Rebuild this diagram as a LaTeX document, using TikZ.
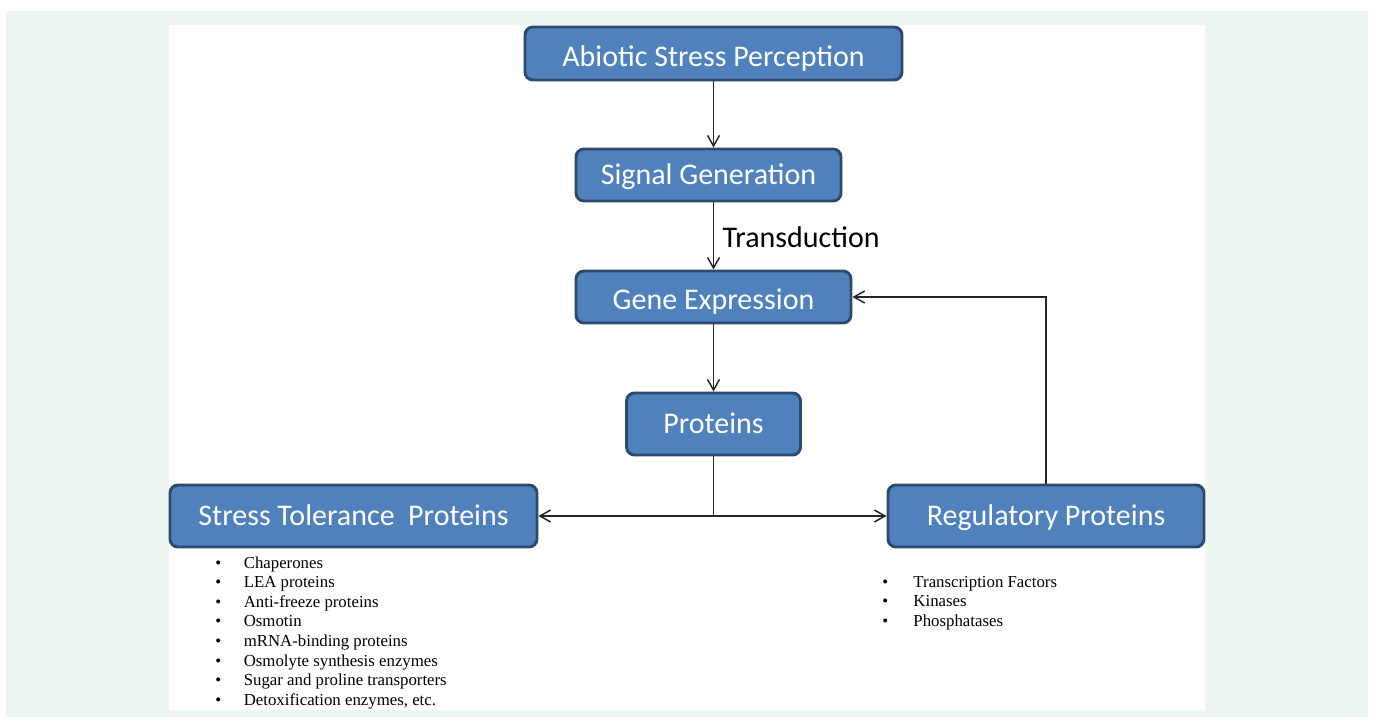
\documentclass[tikz,border=0pt]{standalone}
\usepackage{fontspec}
\setmainfont{Liberation Serif}
\newfontfamily\calibrifont{Carlito}
\usepackage{xcolor}
\usetikzlibrary{arrows.meta,positioning}
\definecolor{boxblue}{HTML}{4F81BD}
\definecolor{boxedge}{HTML}{2C4A6E}
\definecolor{panelgreen}{HTML}{EEF6F1}
\tikzset{
  stage/.style={draw=boxedge,line width=2.2pt,rounded corners=6pt,fill=boxblue,text=white,align=center,inner sep=0pt,text height=14.6pt,text depth=1pt,font=\calibrifont\fontsize{22.5}{27}\selectfont},
  lowtext/.style={text height=20pt},
  flow/.style={-{Straight Barb[length=8pt,width=9pt]},line width=1.1pt,draw=black!85},
  plain/.style={line width=1.1pt,draw=black!85},
  itemlist/.style={inner sep=0pt,anchor=base west,align=left,font=\fontsize{12.6}{14.7}\selectfont}
}

\begin{document}
\begin{tikzpicture}[x=0.75pt,y=-0.75pt,node distance=50.3pt]
  % page and panel
  \useasboundingbox (0,0) rectangle (1373,717);
  \fill[white] (0,0) rectangle (1373,717);
  \fill[panelgreen] (6,11) rectangle (1368,717);
  \fill[white] (169,25) rectangle (1205,710);
  % main chain
  \node[stage,lowtext,minimum width=282.75pt,minimum height=39.75pt] (abiotic) at (713.5,53.5) {Abiotic Stress Perception};
  \node[stage,minimum width=198.75pt,minimum height=39pt,below=49.55pt of abiotic,xshift=-3.75pt] (signal) {Signal Generation};
  \node[stage,lowtext,minimum width=206.25pt,minimum height=39pt,below=of signal,xshift=3.75pt] (gene) {Gene Expression};
  \node[stage,minimum width=130.5pt,minimum height=46.5pt,below=of gene] (prot) {Proteins};
  \node[stage,minimum width=275.25pt,minimum height=46.5pt] (stol) at (353.5,516) {Stress Tolerance\ \ Proteins};
  \node[stage,minimum width=237pt,minimum height=46.5pt] (reg) at (1046,516) {Regulatory Proteins};
  \coordinate (split) at (prot.south |- stol.east);
  % lists
  \node[itemlist] (stollist) at (215,568) {\begin{tabular}[t]{@{}l@{\hspace{17pt}}l@{}}
    \textbullet & Chaperones\\
    \textbullet & LEA proteins\\
    \textbullet & Anti-freeze proteins\\
    \textbullet & Osmotin\\
    \textbullet & mRNA-binding proteins\\
    \textbullet & Osmolyte synthesis enzymes\\
    \textbullet & Sugar and proline transporters\\
    \textbullet & Detoxification enzymes, etc.
  \end{tabular}};
  \node[itemlist] (reglist) at (882,587) {\begin{tabular}[t]{@{}l@{\hspace{19pt}}l@{}}
    \textbullet & Transcription Factors\\
    \textbullet & Kinases\\
    \textbullet & Phosphatases
  \end{tabular}};
  % connectors
  \draw[flow] (abiotic.south) -- (abiotic.south |- signal.north);
  \draw[flow] (gene.north |- signal.south) -- node[right=3pt,yshift=-1pt,text=black,font=\calibrifont\fontsize{22.5}{27}\selectfont]{Transduction} (gene.north);
  \draw[flow] (gene.south) -- (prot.north);
  \draw[plain] (prot.south) -- (split);
  \draw[flow] (split) -- (stol.east);
  \draw[flow] (split) -- (reg.west);
  \draw[flow] (reg.north) |- (gene.east);
\end{tikzpicture}
\end{document}
